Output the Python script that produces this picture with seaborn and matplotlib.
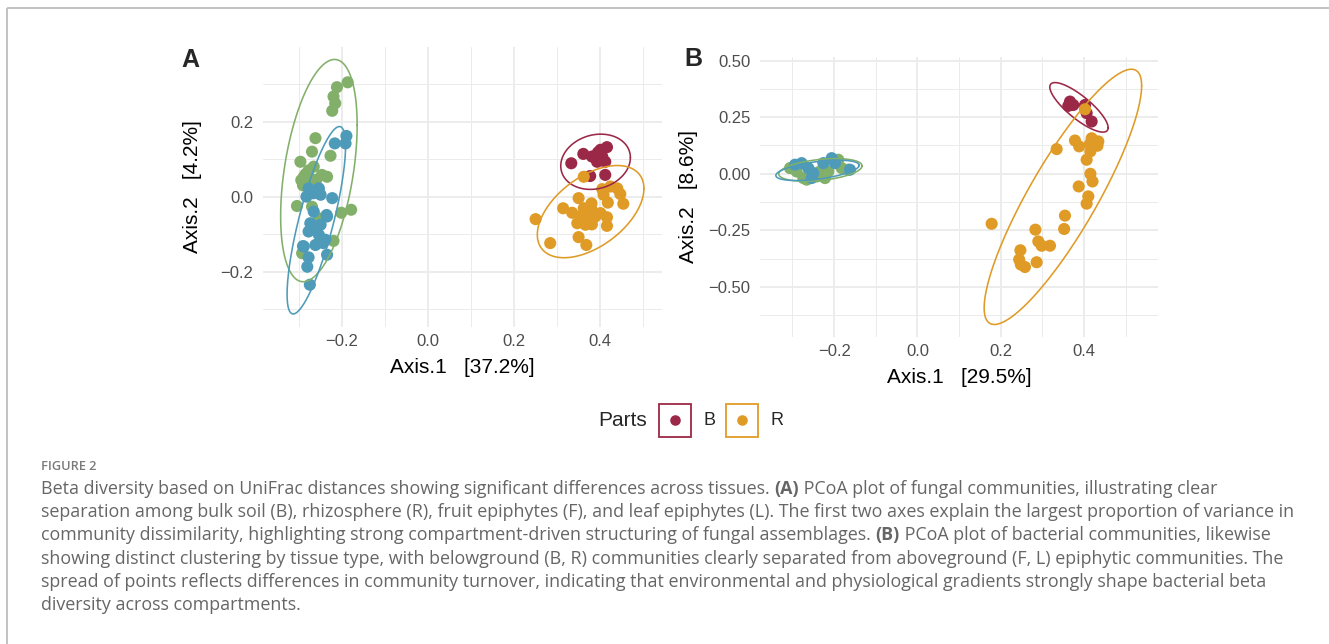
import numpy as np
import pandas as pd
import matplotlib
matplotlib.use("Agg")
import matplotlib.pyplot as plt
import seaborn as sns
from matplotlib.patches import Rectangle
from matplotlib.ticker import FuncFormatter

# ---------------- data ----------------
parts = ["B", "R", "F", "L"]

# Panel A : fungal communities
fung_B_x = [0.333, 0.361, 0.381, 0.401, 0.416, 0.405, 0.412, 0.393, 0.377, 0.412, 0.395]
fung_B_y = [0.089, 0.114, 0.107, 0.125, 0.132, 0.107, 0.093, 0.093, 0.055, 0.058, 0.118]
fung_R_x = [0.362, 0.405, 0.424, 0.440, 0.447, 0.408, 0.454, 0.418, 0.350, 0.380, 0.314, 0.362, 0.335, 0.381,
            0.401, 0.354, 0.370, 0.389, 0.416, 0.347, 0.381, 0.366, 0.416, 0.250, 0.284, 0.350, 0.368]
fung_R_y = [0.053, 0.020, 0.027, 0.022, 0.007, 0.005, -0.019, -0.016, -0.004, -0.018, -0.031, -0.031, -0.043, -0.036,
            -0.044, -0.053, -0.058, -0.053, -0.055, -0.071, -0.074, -0.075, -0.078, -0.060, -0.124, -0.108, -0.129]
fung_F_x = [-0.187, -0.212, -0.220, -0.216, -0.223, -0.262, -0.270, -0.227, -0.297, -0.266, -0.289, -0.247, -0.235, -0.274,
            -0.282, -0.295, -0.305, -0.270, -0.254, -0.202, -0.179, -0.220, -0.293, -0.260, -0.285, -0.278, -0.291]
fung_F_y = [0.305, 0.292, 0.267, 0.249, 0.229, 0.156, 0.120, 0.109, 0.093, 0.080, 0.053, 0.058, 0.053, 0.049,
            0.044, 0.044, -0.025, -0.027, -0.058, -0.043, -0.035, -0.118, -0.151, 0.045, 0.060, 0.070, 0.030]
fung_L_x = [-0.190, -0.192, -0.217, -0.278, -0.254, -0.250, -0.223, -0.266, -0.235, -0.274, -0.250, -0.278, -0.254,
            -0.239, -0.289, -0.262, -0.235, -0.278, -0.281, -0.275, -0.267, -0.283, -0.260, -0.244, -0.291, -0.236]
fung_L_y = [0.162, 0.142, 0.142, 0.022, 0.022, 0.005, -0.004, -0.040, -0.053, -0.071, -0.075, -0.093, -0.102,
            -0.115, -0.133, -0.129, -0.155, -0.162, -0.187, -0.235, 0.009, 0.000, -0.080, -0.124, -0.132, -0.049]

# Panel B : bacterial communities
bact_B_x = [0.366, 0.362, 0.402, 0.406, 0.418, 0.374]
bact_B_y = [0.319, 0.300, 0.304, 0.268, 0.231, 0.304]
bact_R_x = [0.402, 0.378, 0.388, 0.418, 0.434, 0.432, 0.414, 0.415, 0.406, 0.334, 0.415, 0.420, 0.387, 0.410,
            0.406, 0.354, 0.352, 0.178, 0.283, 0.290, 0.298, 0.318, 0.247, 0.244, 0.248, 0.258, 0.286]
bact_R_y = [0.285, 0.147, 0.121, 0.157, 0.143, 0.124, 0.132, 0.099, 0.062, 0.109, 0.000, -0.034, -0.056, -0.100,
            -0.132, -0.185, -0.244, -0.221, -0.247, -0.299, -0.318, -0.318, -0.338, -0.379, -0.401, -0.412, -0.391]
bact_F_x = [-0.306, -0.274, -0.266, -0.234, -0.222, -0.214, -0.190, -0.182, -0.166, -0.290, -0.242]
bact_F_y = [0.025, -0.019, -0.026, 0.010, -0.019, 0.010, 0.062, 0.025, 0.018, 0.010, -0.012]
bact_L_x = [-0.294, -0.278, -0.262, -0.250, -0.226, -0.206, -0.198, -0.162, -0.254]
bact_L_y = [0.040, 0.047, 0.025, 0.003, 0.047, 0.069, 0.047, 0.018, -0.019]

# 95% ellipses: centre x, centre y, half-width in x, half-height in y, correlation (order B, R, F, L)
fung_ell_cx = [0.3895, 0.378, -0.254, -0.260]
fung_ell_cy = [0.093, -0.040, 0.0695, -0.063]
fung_ell_rx = [0.081, 0.124, 0.089, 0.068]
fung_ell_ry = [0.0737, 0.123, 0.2965, 0.250]
fung_ell_rho = [0.15, 0.50, 0.41, 0.79]

bact_ell_cx = [0.3876, 0.349, -0.233, -0.240]
bact_ell_cy = [0.2935, -0.102, 0.017, 0.015]
bact_ell_rx = [0.070, 0.189, 0.100, 0.100]
bact_ell_ry = [0.1095, 0.564, 0.050, 0.045]
bact_ell_rho = [-0.82, 0.87, 0.36, 0.50]

axis1_labels = ["Axis.1   [37.2%]", "Axis.1   [29.5%]"]
axis2_labels = ["Axis.2   [4.2%]", "Axis.2   [8.6%]"]
x_major = [-0.2, 0.0, 0.2, 0.4]
x_minor = [-0.3, -0.1, 0.1, 0.3, 0.5]
fung_y_major = [-0.2, 0.0, 0.2]
fung_y_minor = [-0.3, -0.1, 0.1, 0.3]
bact_y_major = [-0.50, -0.25, 0.0, 0.25, 0.50]
bact_y_minor = [-0.625, -0.375, -0.125, 0.125, 0.375]
legend_parts = ["B", "R"]

caption_head = "FIGURE 2"
caption_lines = [
    [("Beta diversity based on UniFrac distances showing significant differences across tissues. ", False),
     ("(A)", True), (" PCoA plot of fungal communities, illustrating clear", False)],
    [("separation among bulk soil (B), rhizosphere (R), fruit epiphytes (F), and leaf epiphytes (L). The first two axes explain the largest proportion of variance in", False)],
    [("community dissimilarity, highlighting strong compartment-driven structuring of fungal assemblages. ", False),
     ("(B)", True), (" PCoA plot of bacterial communities, likewise", False)],
    [("showing distinct clustering by tissue type, with belowground (B, R) communities clearly separated from aboveground (F, L) epiphytic communities. The", False)],
    [("spread of points reflects differences in community turnover, indicating that environmental and physiological gradients strongly shape bacterial beta", False)],
    [("diversity across compartments.", False)],
]

# ---------------- style ----------------
sns.set_theme(style="white")
plt.rcParams['font.family'] = ['Liberation Sans', 'DejaVu Sans']
plt.rcParams['axes.unicode_minus'] = True

palette = {"B": "#9C2847", "R": "#DF9B26", "F": "#82B06B", "L": "#4D9BB9"}
GRID = "#EBEBEB"
TICK = "#4D4D4D"
CAP_FONT = ['Open Sans', 'DejaVu Sans']
CAP_COL = "#666666"

W, H = 1329, 644
fig = plt.figure(figsize=(W / 100, H / 100), dpi=100)
fig.patch.set_facecolor("white")


def px_axes(l, t, r, b):
    return fig.add_axes([l / W, 1 - b / H, (r - l) / W, (b - t) / H])


def make_df(xs, ys):
    rows = []
    for p, x, y in zip(parts, xs, ys):
        rows.append(pd.DataFrame({"Axis.1": x, "Axis.2": y, "Parts": p}))
    return pd.concat(rows, ignore_index=True)


def minus_fmt(dec):
    return FuncFormatter(lambda v, pos: (f"{v:.{dec}f}").replace("-", "\u2212"))


def ellipse_xy(cx, cy, rx, ry, rho):
    t = np.linspace(0, 2 * np.pi, 300)
    d = np.arccos(rho)
    return cx + rx * np.cos(t), cy + ry * np.cos(t - d)


def draw_panel(ax, df, ell, xlim, ylim, ymaj, ymin, ydec, xlab, ylab, ylab_x, ylab_y, xlab_y):
    sns.scatterplot(data=df, x="Axis.1", y="Axis.2", hue="Parts", hue_order=parts,
                    palette=palette, s=76, linewidth=0, alpha=1, legend=False, ax=ax, zorder=3)
    for p, cx, cy, rx, ry, rho in zip(parts, *ell):
        ex, ey = ellipse_xy(cx, cy, rx, ry, rho)
        ax.plot(ex, ey, color=palette[p], lw=1.15, zorder=4)
    ax.set_xlim(*xlim)
    ax.set_ylim(*ylim)
    ax.set_xticks(x_major)
    ax.set_xticks(x_minor, minor=True)
    ax.set_yticks(ymaj)
    ax.set_yticks(ymin, minor=True)
    ax.xaxis.set_major_formatter(minus_fmt(1))
    ax.yaxis.set_major_formatter(minus_fmt(ydec))
    ax.set_axisbelow(True)
    ax.grid(which="major", color=GRID, lw=1.3)
    ax.grid(which="minor", color=GRID, lw=0.7)
    for s in ax.spines.values():
        s.set_visible(False)
    ax.set_facecolor("white")
    ax.tick_params(axis="x", which="both", length=0, pad=5.5, labelsize=12, labelcolor=TICK)
    ax.tick_params(axis="y", which="both", length=0, pad=7, labelsize=12, labelcolor=TICK)
    ax.set_xlabel(xlab, fontsize=15, color="black")
    ax.set_ylabel(ylab, fontsize=15, color="black")
    ax.xaxis.set_label_coords(0.5, xlab_y)
    ax.yaxis.set_label_coords(ylab_x, ylab_y)


axA = px_axes(263, 46.7, 662, 326.7)
draw_panel(axA, make_df([fung_B_x, fung_R_x, fung_F_x, fung_L_x], [fung_B_y, fung_R_y, fung_F_y, fung_L_y]),
           (fung_ell_cx, fung_ell_cy, fung_ell_rx, fung_ell_ry, fung_ell_rho),
           (-0.384, 0.544), (-0.347, 0.40), fung_y_major, fung_y_minor, 1,
           axis1_labels[0], axis2_labels[0], -0.154, 0.5, -0.112)

axB = px_axes(760, 57, 1158.3, 336.7)
draw_panel(axB, make_df([bact_B_x, bact_R_x, bact_F_x, bact_L_x], [bact_B_y, bact_R_y, bact_F_y, bact_L_y]),
           (bact_ell_cx, bact_ell_cy, bact_ell_rx, bact_ell_ry, bact_ell_rho),
           (-0.378, 0.578), (-0.72, 0.516), bact_y_major, bact_y_minor, 2,
           axis1_labels[1], axis2_labels[1], -0.156, 0.5, -0.112)

# ---------------- overlay in pixel coordinates (frame, tags, legend, caption) ----------------
ov = fig.add_axes([0, 0, 1, 1], zorder=10)
ov.set_xlim(0, W)
ov.set_ylim(H, 0)
ov.axis("off")
ov.patch.set_alpha(0)

ov.plot([7, 7], [H, 8], color="#BDBDBD", lw=1.3, solid_capstyle="butt")
ov.plot([7, W], [8, 8], color="#BDBDBD", lw=1.3, solid_capstyle="butt")

ov.text(181.7, 66.7, "A", fontsize=18, fontweight="bold", va="baseline", ha="left")
ov.text(684.5, 66.0, "B", fontsize=18, fontweight="bold", va="baseline", ha="left")

# legend (only B and R keys are visible in the reference)
ov.text(647, 420, "Parts", fontsize=15, ha="right", va="center")
key_left = [659.3, 726.0]
for p, kx in zip(legend_parts, key_left):
    ov.add_patch(Rectangle((kx, 403.5), 32, 33, fill=False, ec=palette[p], lw=1.3))
    ov.scatter([kx + 16], [420], s=58, color=palette[p], linewidth=0)
    ov.text(kx + 44, 420, p, fontsize=13, ha="left", va="center")

# caption
renderer = fig.canvas.get_renderer()


def seg_width(s, bold, size):
    t1 = ov.text(0, 0, "|" + s + "|", fontsize=size, family=CAP_FONT, fontweight="bold" if bold else "normal")
    t2 = ov.text(0, 0, "||", fontsize=size, family=CAP_FONT, fontweight="bold" if bold else "normal")
    w = t1.get_window_extent(renderer).width - t2.get_window_extent(renderer).width
    t1.remove()
    t2.remove()
    return w


base_size = 11.0
w_ref = sum(seg_width(s, b, base_size) for s, b in caption_lines[1])
cap_size = base_size * 1259.0 / w_ref

ov.text(41, 469.5, caption_head, fontsize=9.2, family=CAP_FONT, fontweight="semibold",
        color="#7A7A7A", va="baseline", ha="left")
for i, line in enumerate(caption_lines):
    x = 41.0
    y = 493.5 + i * 23.4
    for s, b in line:
        ov.text(x, y, s, fontsize=cap_size, family=CAP_FONT, fontweight="bold" if b else "normal",
                color=CAP_COL, va="baseline", ha="left")
        x += seg_width(s, b, cap_size)

fig.savefig("out.png", dpi=100, facecolor="white")
